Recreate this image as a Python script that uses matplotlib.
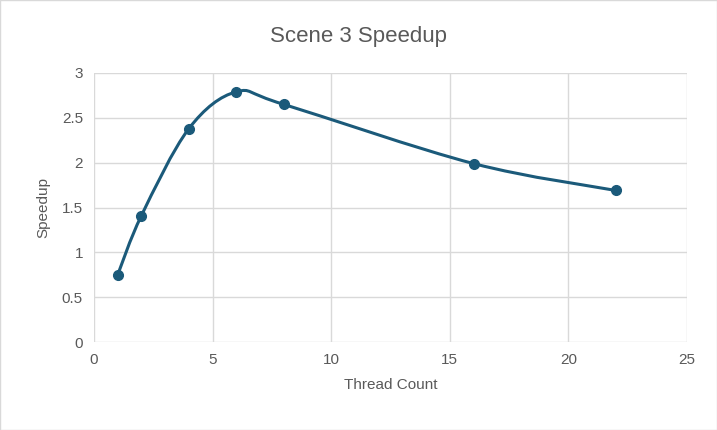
import matplotlib
matplotlib.use("Agg")
import matplotlib.pyplot as plt
from matplotlib.path import Path
from matplotlib.patches import PathPatch
import numpy as np

threads = [1, 2, 4, 6, 8, 16, 22]
speedup = [0.75, 1.41, 2.38, 2.79, 2.65, 1.99, 1.69]

color = '#1b5a7a'
plt.rcParams['font.family'] = ['Liberation Sans', 'DejaVu Sans']

fig = plt.figure(figsize=(7.17, 4.30), dpi=100)
ax = fig.add_axes([94/717, 1 - 342/430, (687-94)/717, (342-73)/430])

# Excel-style smoothed line: cubic Bezier segments with Catmull-Rom control points
x = np.array(threads, float)
y = np.array(speedup, float)
verts = [(x[0], y[0])]
codes = [Path.MOVETO]
n = len(x)
for i in range(n - 1):
    p0 = (x[max(i-1, 0)], y[max(i-1, 0)])
    p1 = (x[i], y[i])
    p2 = (x[i+1], y[i+1])
    p3 = (x[min(i+2, n-1)], y[min(i+2, n-1)])
    c1 = (p1[0] + (p2[0]-p0[0])/6, p1[1] + (p2[1]-p0[1])/6)
    c2 = (p2[0] - (p3[0]-p1[0])/6, p2[1] - (p3[1]-p1[1])/6)
    verts += [c1, c2, p2]
    codes += [Path.CURVE4] * 3
ax.add_patch(PathPatch(Path(verts, codes), facecolor='none', edgecolor=color, lw=2.2, zorder=3))
ax.plot(threads, speedup, 'o', color=color, ms=7, zorder=4)

ax.set_xlim(0, 25)
ax.set_ylim(0, 3)
ax.set_xticks(range(0, 26, 5))
ax.set_yticks(np.arange(0, 3.01, 0.5))
ax.set_yticklabels(['0', '0.5', '1', '1.5', '2', '2.5', '3'])
ax.grid(True, color='#d9d9d9', lw=1)
ax.set_axisbelow(True)
for s in ax.spines.values():
    s.set_visible(False)
ax.tick_params(length=0, labelsize=11, colors='#595959', pad=8)
ax.set_xlabel('Thread Count', fontsize=11, color='#595959', labelpad=8)
ax.set_ylabel('Speedup', fontsize=11, color='#595959', labelpad=8)
fig.suptitle('Scene 3 Speedup', y=0.94, fontsize=16, color='#595959')
fig.patches.append(plt.Rectangle((0, 0), 1, 1, transform=fig.transFigure,
                                 fill=False, edgecolor='#d9d9d9', lw=1))
fig.savefig('out.png', dpi=100)
